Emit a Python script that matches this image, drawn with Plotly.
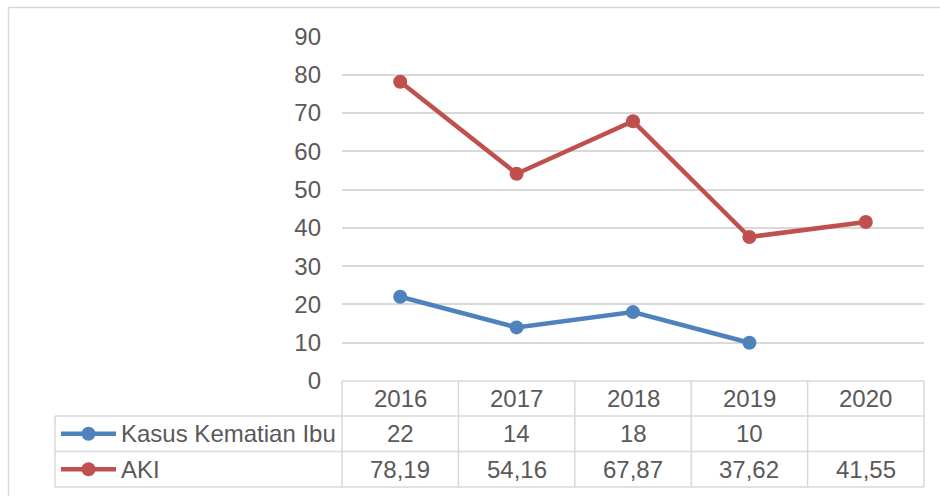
import plotly.graph_objects as go

years = ["2016", "2017", "2018", "2019", "2020"]
kasus = [22, 14, 18, 10, None]
aki = [78.19, 54.16, 67.87, 37.62, 41.55]
kasus_labels = ["22", "14", "18", "10", ""]
aki_labels = ["78,19", "54,16", "67,87", "37,62", "41,55"]
series_names = ["Kasus Kematian Ibu", "AKI"]
colors = ["#4f81bd", "#c0504d"]

W, H = 940, 496
def px(x):
    return x / W
def py(y):
    return 1 - y / H

plot_l, plot_r = 342, 924
plot_t, plot_b = 36.5, 381
row_lines = [381, 416, 451.5, 487]
table_l = 55

fig = go.Figure()
for vals, name, col in [(kasus, series_names[0], colors[0]), (aki, series_names[1], colors[1])]:
    fig.add_trace(go.Scatter(
        x=list(range(len(years))), y=vals, mode="lines+markers", name=name,
        line=dict(color=col, width=4.5), marker=dict(color=col, size=14),
        connectgaps=False, showlegend=False, hoverinfo="skip"))

shapes = []
lc = "#d9d9d9"
shapes.append(dict(type="line", xref="paper", yref="paper", x0=px(8.5), x1=px(940), y0=py(7.5), y1=py(7.5), line=dict(color=lc, width=1.5)))
shapes.append(dict(type="line", xref="paper", yref="paper", x0=px(8.5), x1=px(8.5), y0=py(7.5), y1=py(496), line=dict(color=lc, width=1.5)))
shapes.append(dict(type="line", xref="paper", yref="paper", x0=px(plot_l), x1=px(plot_r), y0=py(row_lines[0]), y1=py(row_lines[0]), line=dict(color=lc, width=1.5)))
for yl in row_lines[1:]:
    shapes.append(dict(type="line", xref="paper", yref="paper", x0=px(table_l), x1=px(plot_r), y0=py(yl), y1=py(yl), line=dict(color=lc, width=1.5)))
colw = (plot_r - plot_l) / len(years)
for i in range(len(years) + 1):
    xl = plot_l + i * colw
    shapes.append(dict(type="line", xref="paper", yref="paper", x0=px(xl), x1=px(xl), y0=py(row_lines[0]), y1=py(row_lines[-1]), line=dict(color=lc, width=1.5)))
shapes.append(dict(type="line", xref="paper", yref="paper", x0=px(table_l), x1=px(table_l), y0=py(row_lines[1]), y1=py(row_lines[-1]), line=dict(color=lc, width=1.5)))

annotations = []
font = dict(family="Liberation Sans, Arial", size=24, color="#595959")
row_mid = [(row_lines[i] + row_lines[i + 1]) / 2 for i in range(3)]
for i, yr in enumerate(years):
    annotations.append(dict(x=i, xref="x", y=py(row_mid[0]), yref="paper", text=yr, showarrow=False, font=font, yanchor="middle"))
    annotations.append(dict(x=i, xref="x", y=py(row_mid[1]), yref="paper", text=kasus_labels[i], showarrow=False, font=font, yanchor="middle"))
    annotations.append(dict(x=i, xref="x", y=py(row_mid[2]), yref="paper", text=aki_labels[i], showarrow=False, font=font, yanchor="middle"))

for r, (name, col) in enumerate(zip(series_names, colors)):
    ym = row_mid[r + 1]
    shapes.append(dict(type="line", xref="paper", yref="paper", x0=px(61), x1=px(116), y0=py(ym), y1=py(ym), line=dict(color=col, width=4.5)))
    shapes.append(dict(type="circle", xref="paper", yref="paper", x0=px(81.5), x1=px(95.5), y0=py(ym + 7), y1=py(ym - 7), fillcolor=col, line=dict(color=col, width=0)))
    annotations.append(dict(x=px(119), xref="paper", y=py(ym), yref="paper", text=name, showarrow=False, font=font, xanchor="left", yanchor="middle"))

fig.update_layout(
    width=W, height=H, margin=dict(l=0, r=0, t=0, b=0, pad=0),
    paper_bgcolor="white", plot_bgcolor="white",
    xaxis=dict(domain=[px(plot_l), px(plot_r)], range=[-0.5, len(years) - 0.5], showticklabels=False,
               showgrid=False, zeroline=False, showline=False, fixedrange=True, automargin=False),
    yaxis=dict(domain=[py(plot_b), py(plot_t)], range=[0, 90], dtick=10, tick0=0,
               showgrid=True, gridcolor="#d9d9d9", gridwidth=1.5, zeroline=False, showline=False,
               tickfont=font, ticks="", ticklabelstandoff=20, automargin=False, fixedrange=True),
    shapes=shapes, annotations=annotations, showlegend=False,
)
fig.write_html("out.html", config={"displayModeBar": False},
               post_script="document.body.style.margin='0';document.body.style.overflow='hidden';")
